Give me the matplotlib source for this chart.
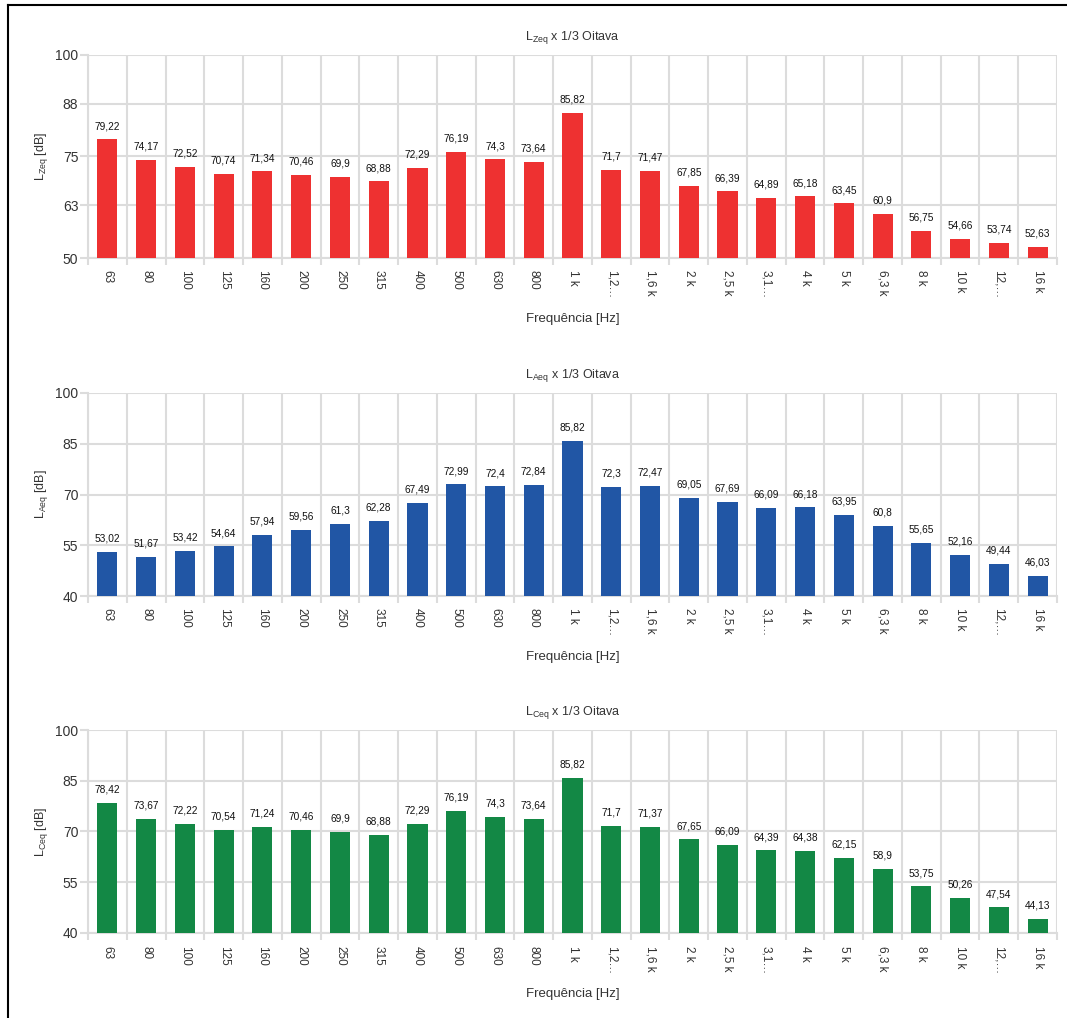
import matplotlib
matplotlib.use('Agg')
import matplotlib.pyplot as plt
from matplotlib.lines import Line2D
import numpy as np

plt.rcParams['font.family'] = ['Liberation Sans', 'DejaVu Sans']

# frequency bands (1/3 octave)
bands = [
    '63', '80', '100', '125', '160', '200', '250', '315', '400', '500',
    '630', '800', '1 k', '1,2…', '1,6 k', '2 k', '2,5 k', '3,1…', '4 k',
    '5 k', '6,3 k', '8 k', '10 k', '12,…', '16 k',
]

lzeq = [79.22, 74.17, 72.52, 70.74, 71.34, 70.46, 69.9, 68.88, 72.29, 76.19,
        74.3, 73.64, 85.82, 71.7, 71.47, 67.85, 66.39, 64.89, 65.18, 63.45,
        60.9, 56.75, 54.66, 53.74, 52.63]
laeq = [53.02, 51.67, 53.42, 54.64, 57.94, 59.56, 61.3, 62.28, 67.49, 72.99,
        72.4, 72.84, 85.82, 72.3, 72.47, 69.05, 67.69, 66.09, 66.18, 63.95,
        60.8, 55.65, 52.16, 49.44, 46.03]
lceq = [78.42, 73.67, 72.22, 70.54, 71.24, 70.46, 69.9, 68.88, 72.29, 76.19,
        74.3, 73.64, 85.82, 71.7, 71.37, 67.65, 66.09, 64.39, 64.38, 62.15,
        58.9, 53.75, 50.26, 47.54, 44.13]

z_ticks = [50, 63, 75, 88, 100]
ac_ticks = [40, 55, 70, 85, 100]

grid_col = '#dcdcdc'
text_col = '#333333'

fig = plt.figure(figsize=(10.67, 10.18), dpi=100)

left = 88 / 1067
width = 969 / 1067
height = 203 / 1018

panels = [
    ('Zeq', lzeq, z_ticks, '#ee3131', 1 - 258 / 1018),
    ('Aeq', laeq, ac_ticks, '#2156a5', 1 - 596 / 1018),
    ('Ceq', lceq, ac_ticks, '#138845', 1 - 933 / 1018),
]


def fmt(v):
    # portuguese decimal comma
    s = ('%.2f' % v).rstrip('0').rstrip('.')
    return s.replace('.', ',')


for sub, values, yt, color, bottom in panels:
    ax = fig.add_axes([left, bottom, width, height])
    x = np.arange(len(bands))
    ax.bar(x, values, width=0.52, color=color, zorder=3)
    for xi, v in zip(x, values):
        ax.annotate(fmt(v), (xi, v), xytext=(0, 6), textcoords='offset points',
                    ha='center', va='bottom', fontsize=7.3, color='#111111')

    ax.set_xlim(-0.5, len(bands) - 0.5)
    ax.set_ylim(yt[0], yt[-1])
    ax.set_yticks(yt)
    ax.set_xticks(x)
    ax.set_xticklabels(bands, rotation=270, fontsize=8.5, color=text_col)
    ax.set_xticks(np.arange(-0.5, len(bands), 1), minor=True)
    ax.tick_params(axis='x', which='major', length=0, pad=9)
    ax.tick_params(axis='x', which='minor', length=5, color=grid_col, width=1.5)
    ax.tick_params(axis='y', length=6, color=grid_col, width=1.5,
                   labelsize=10, labelcolor=text_col, pad=1)

    ax.grid(axis='y', color=grid_col, linewidth=1.5, zorder=0)
    ax.grid(axis='x', which='minor', color=grid_col, linewidth=1.5, zorder=0)
    for s in ['top', 'right']:
        ax.spines[s].set_visible(False)
    for s in ['left', 'bottom']:
        ax.spines[s].set_color(grid_col)
        ax.spines[s].set_linewidth(1.5)

    ax.set_title('L$_{\\mathregular{%s}}$ x 1/3 Oitava' % sub, fontsize=9,
                 color=text_col, pad=11)
    ax.set_ylabel('L$_{\\mathregular{%s}}$ [dB]' % sub, fontsize=9,
                  color=text_col, labelpad=4)
    ax.set_xlabel('Frequência [Hz]', fontsize=9.5, color=text_col, labelpad=10)

# outer frame (top and left edge)
fig.add_artist(Line2D([8 / 1067, 1], [1 - 5 / 1018, 1 - 5 / 1018],
                      transform=fig.transFigure, color='black', linewidth=1.5))
fig.add_artist(Line2D([8 / 1067, 8 / 1067], [0, 1 - 5 / 1018],
                      transform=fig.transFigure, color='black', linewidth=1.5))

fig.savefig('out.png', dpi=100)
